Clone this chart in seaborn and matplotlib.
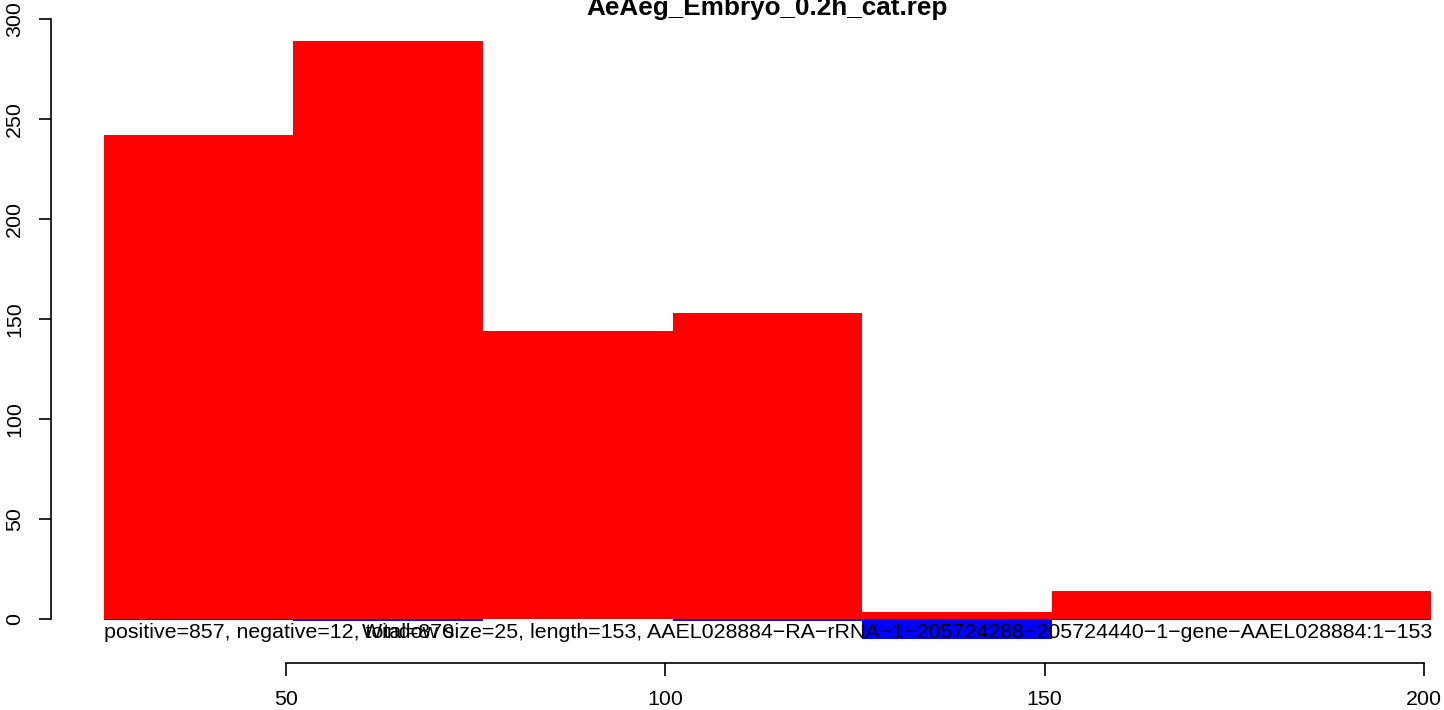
import numpy as np
import pandas as pd
import matplotlib
matplotlib.use("Agg")
import matplotlib.pyplot as plt
import seaborn as sns

# window centres (size 25) and counts per strand
win_centres = [38.5, 63.5, 88.5, 113.5, 138.5, 163.5, 188.5]
pos_counts = [242, 289, 144, 153, 3.5, 14, 14]
neg_counts = [-0.3, -1, 0, -1, -10, -0.3, -0.3]
x_ticks = [50, 100, 150, 200]
y_ticks = [0, 50, 100, 150, 200, 250, 300]

title = "AeAeg_Embryo_0.2h_cat.rep"
left_note = "positive=857, negative=12, total=870"
right_note = ("Window size=25, length=153, "
              "AAEL028884\u2212RA\u2212rRNA\u22121\u2212205724288\u2212205724440\u22121\u2212gene\u2212AAEL028884:1\u2212153")

sns.set_style("white")
plt.rcParams['font.family'] = ['Liberation Sans', 'DejaVu Sans']
plt.rcParams['text.color'] = 'black'

FS = 15.4
W, H = 1444, 710
fig = plt.figure(figsize=(W/100, H/100), dpi=100)
# plot region in pixels: x 50.6..1484.6 (runs past the right edge), y 17..663
ax = fig.add_axes([50.6/W, (H-663)/H, 1434/W, 646/H])

df = pd.DataFrame({'x': win_centres, 'pos': pos_counts, 'neg': neg_counts})
sns.barplot(data=df, x='x', y='pos', native_scale=True, width=1, color='#FF0000',
            saturation=1, linewidth=0, errorbar=None, ax=ax)
sns.barplot(data=df, x='x', y='neg', native_scale=True, width=1, color='#0000FF',
            saturation=1, linewidth=0, errorbar=None, ax=ax)
for p in ax.patches:
    p.set_edgecolor('none')
    p.set_antialiased(False)

ax.set_xlim(19, 208)
ax.set_ylim(-22, 301)
ax.set_xlabel("")
ax.set_ylabel("")
ax.set_xticks(x_ticks)
ax.set_xticklabels([str(t) for t in x_ticks], fontsize=FS)
ax.set_yticks(y_ticks)
ax.set_yticklabels([str(t) for t in y_ticks], fontsize=FS, rotation=90, va='center')
ax.tick_params(axis='x', bottom=True, direction='out', length=9.5, width=1.2, pad=10,
               colors='black', labelcolor='black')
ax.tick_params(axis='y', left=True, direction='out', length=9, width=1.2, pad=10,
               colors='black', labelcolor='black')
for s in ['top', 'right']:
    ax.spines[s].set_visible(False)
ax.spines['left'].set_bounds(0, 300)
ax.spines['bottom'].set_bounds(50, 200)
for s in ['left', 'bottom']:
    ax.spines[s].set_color('black')
    ax.spines[s].set_linewidth(1.2)
ax.patch.set_alpha(0)

fig.text(767/W, 1 - 15/H, title, ha='center', va='baseline', fontsize=18.8,
         fontweight='bold', color='black')
fig.text(104/W, 1 - 638/H, left_note, ha='left', va='baseline', fontsize=FS,
         color='black', zorder=5)
fig.text(1432/W, 1 - 638/H, right_note, ha='right', va='baseline', fontsize=FS,
         color='black', zorder=5)

fig.savefig("out.png", dpi=100)
